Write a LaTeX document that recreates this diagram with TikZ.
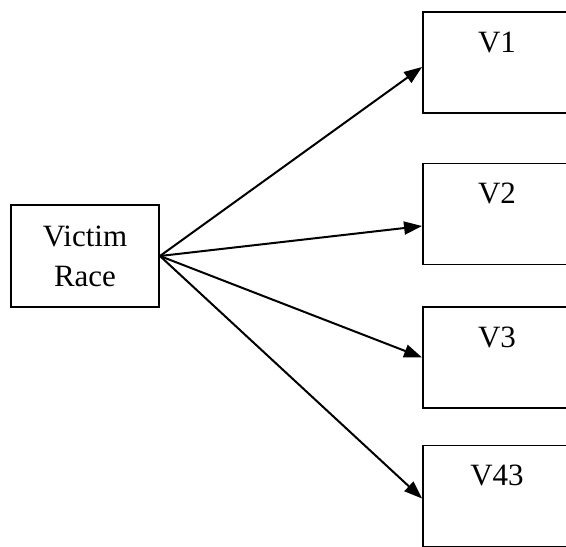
\documentclass[tikz,border=0pt]{standalone}
\usepackage{fontspec}
\setmainfont{Liberation Serif}
\usetikzlibrary{arrows.meta,calc}
\begin{document}
\begin{tikzpicture}[x=1pt,y=-1pt,
  box/.style={draw=black,line width=1.9pt,rectangle,inner sep=0pt},
  vbox/.style={box,minimum width=148pt,minimum height=101pt},
  lbl/.style={font=\fontsize{31}{40}\selectfont},
  conn/.style={line width=2pt,-{Triangle[length=18pt,width=13pt]}}]
\useasboundingbox (0,0) rectangle (566,547);
\node[box,minimum width=148pt,minimum height=102pt,lbl,align=center] (vr) at (85,256) {Victim\\Race};
\node[vbox,label={[lbl,anchor=base,yshift=-41pt]north:V1}] (v1) at (497,62.5) {};
\node[vbox,label={[lbl,anchor=base,yshift=-41pt]north:V2}] (v2) at (497,214) {};
\node[vbox,label={[lbl,anchor=base,yshift=-41pt]north:V3}] (v3) at (497,357.5) {};
\node[vbox,label={[lbl,anchor=base,yshift=-41pt]north:V43}] (v43) at (497,496) {};
\draw[conn] (vr.east) -- ($(v1.west)+(0,4.5)$);
\draw[conn] (vr.east) -- ($(v2.west)+(0,12)$);
\draw[conn] (vr.east) -- ($(v3.west)+(0,0)$);
\draw[conn] (vr.east) -- ($(v43.west)+(0,2.5)$);
\end{tikzpicture}
\end{document}
